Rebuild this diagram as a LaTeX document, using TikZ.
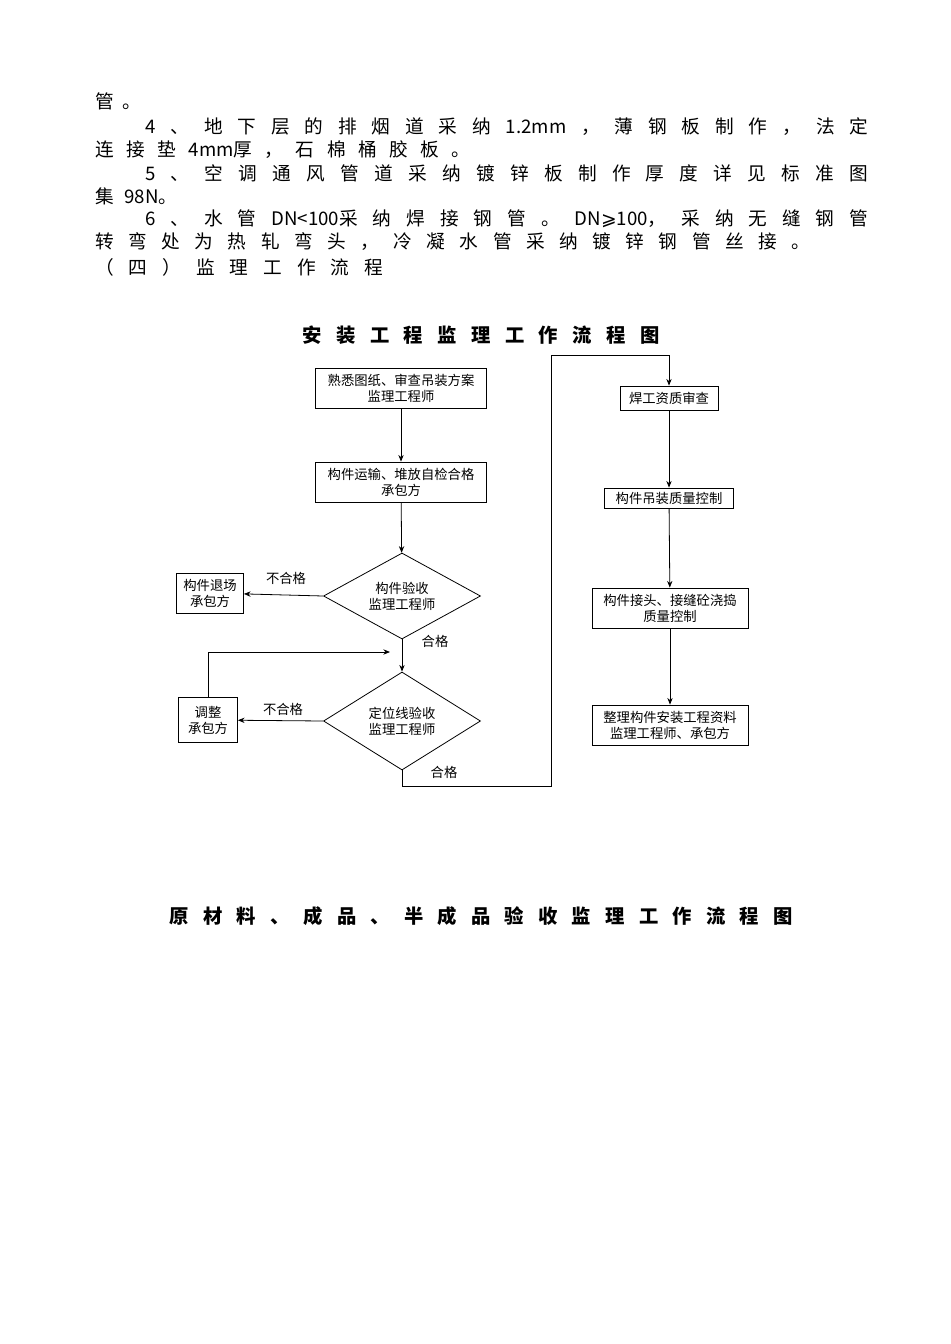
\documentclass[tikz,border=0pt]{standalone}
\usepackage{fontspec}
\setmainfont{Noto Sans CJK SC}
\newfontfamily\symf{DejaVu Sans}
\usetikzlibrary{shapes.geometric,arrows.meta}
\newcommand{\spr}[2]{\makebox[#1][s]{#2}}
\begin{document}
\begin{tikzpicture}[x=0.75pt,y=-0.75pt,
 para/.style={anchor=west,inner sep=0pt,font=\fontsize{14}{14}\selectfont},
 ttl/.style={inner sep=0pt,font=\fontsize{14.5}{15}\selectfont\bfseries},
 bx/.style={draw,semithick,inner sep=0pt,font=\fontsize{10}{12}\selectfont,align=center},
 dm/.style={draw,semithick,diamond,aspect=2,inner sep=0pt,minimum width=157*0.75pt,minimum height=86*0.75pt,font=\fontsize{10}{12}\selectfont,align=center},
 lb/.style={font=\fontsize{10}{12}\selectfont,inner sep=0pt},
 ar/.style={semithick,-{Stealth[length=5pt,width=4pt]}}]
\useasboundingbox (0,0) rectangle (950,1344);
\fill[white] (0,0) rectangle (950,1344);
% paragraph text
\node[para] (l1) at (95,101) {管 \ 。};
\node[para] (l2) at (145,127) {\spr{723\dimexpr0.75pt}{4 、 地 下 层 的 排 烟 道 采 纳 1.2mm ， 薄 钢 板 制 作 ， 法 定}};
\node[para] (l3) at (95,150) {\spr{375\dimexpr0.75pt}{连 接 垫 4mm厚 ， 石 棉 桶 胶 板 。}};
\node[para] (l4) at (145,173) {\spr{723\dimexpr0.75pt}{5 、 空 调 通 风 管 道 采 纳 镀 锌 板 制 作 厚 度 详 见 标 准 图}};
\node[para] (l5) at (95,196) {集\hspace{8pt}98N。};
\node[para] (l6) at (145,219) {\spr{723\dimexpr0.75pt}{6 、 水 管 DN<100采 纳 焊 接 钢 管 。 DN{\symf ⩾}100， 采 纳 无 缝 钢 管}};
\node[para] (l7) at (95,242) {\spr{715\dimexpr0.75pt}{转 弯 处 为 热 轧 弯 头 ， 冷 凝 水 管 采 纳 镀 锌 钢 管 丝 接 。}};
\node[para] (l8) at (95,267) {\spr{288\dimexpr0.75pt}{（ 四 ） 监 理 工 作 流 程}};
% titles
\node[ttl] (t1) at (481,335) {\spr{357\dimexpr0.75pt}{安 装 工 程 监 理 工 作 流 程 图}};
\node[ttl] (t2) at (481,916) {\spr{623\dimexpr0.75pt}{原 材 料 、 成 品 、 半 成 品 验 收 监 理 工 作 流 程 图}};
% left column
\node[bx,minimum width=171*0.75pt,minimum height=40*0.75pt] (b1) at (401,388) {熟悉图纸、审查吊装方案\\监理工程师};
\node[bx,minimum width=171*0.75pt,minimum height=40*0.75pt] (b2) at (401,482) {构件运输、堆放自检合格\\承包方};
\node[dm] (d1) at (402,596) {构件验收\\监理工程师};
\node[bx,minimum width=67*0.75pt,minimum height=40*0.75pt] (r1) at (210,593) {构件退场\\承包方};
\node[dm,minimum height=98*0.75pt] (d2) at (402,721) {定位线验收\\监理工程师};
\node[bx,minimum width=59*0.75pt,minimum height=45*0.75pt] (r2) at (208,720) {调整\\承包方};
\node[lb] (n1) at (286,578) {不合格};
\node[lb] (n2) at (283,709) {不合格};
\node[lb] (p1) at (435,641) {合格};
\node[lb] (p2) at (444,772) {合格};
\coordinate (lp) at (390,652);
\coordinate (c1) at (402,786);
\coordinate (c2) at (551,786);
\coordinate (c3) at (551,355);
\coordinate (c4) at (669,355);
% right column
\node[bx,minimum width=98*0.75pt,minimum height=24*0.75pt] (k1) at (669,398) {焊工资质审查};
\node[bx,minimum width=129*0.75pt,minimum height=20*0.75pt] (k2) at (669,498) {构件吊装质量控制};
\node[bx,minimum width=156*0.75pt,minimum height=40*0.75pt] (k3) at (670,608) {构件接头、接缝砼浇捣\\质量控制};
\node[bx,minimum width=156*0.75pt,minimum height=40*0.75pt] (k4) at (670,725) {整理构件安装工程资料\\监理工程师、承包方};
% connectors
\draw[ar] (b1) -- (b2);
\draw[ar] (b2) -- (d1);
\draw[ar] (d1.west) -- (r1);
\draw[ar] (d1) -- (d2);
\draw[ar] (d2.west) -- (r2);
\draw[ar] (r2.north) |- (lp);
\draw[ar] (d2.south) -- (c1) -- (c2) -- (c3) -- (c4) -- (k1);
\draw[ar] (k1) -- (k2);
\draw[ar] (k2) -- (k3);
\draw[ar] (k3) -- (k4);
\end{tikzpicture}
\end{document}
